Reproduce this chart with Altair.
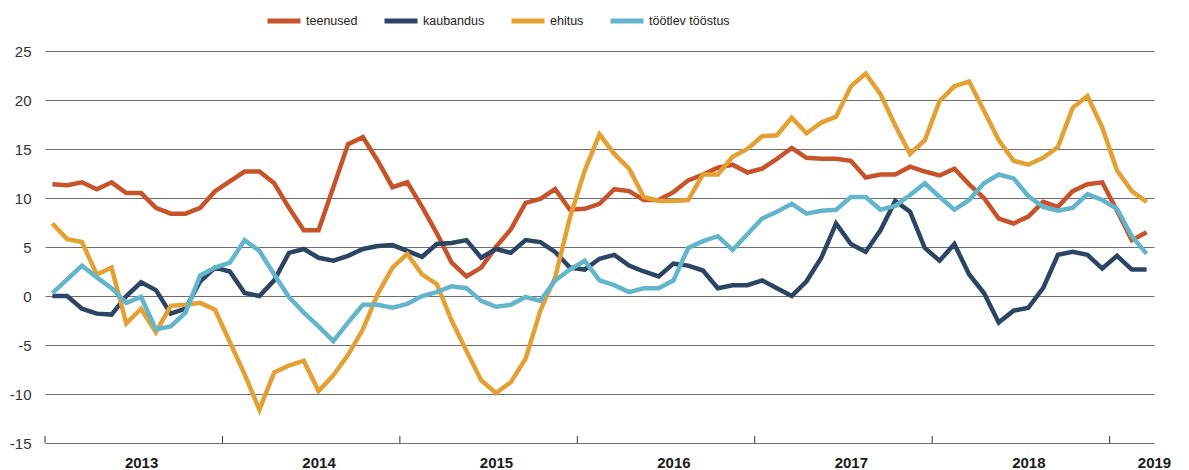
import altair as alt
import pandas as pd

series_names = ["teenused", "kaubandus", "ehitus", "töötlev tööstus"]
series_colors = ["#C7532A", "#2B4562", "#E3A133", "#63B5CB"]
years = [2013, 2014, 2015, 2016, 2017, 2018, 2019]

teenused = [11.4, 11.3, 11.6, 10.9, 11.6, 10.5, 10.5, 9.0, 8.4, 8.4, 9.0, 10.7,
            11.7, 12.7, 12.7, 11.5, 9.0, 6.7, 6.7, 11.1, 15.5, 16.2, 13.8, 11.1,
            11.6, 9.1, 6.4, 3.4, 2.0, 2.9, 5.0, 6.8, 9.5, 9.9, 10.9, 8.8,
            8.9, 9.4, 10.9, 10.7, 9.8, 9.8, 10.6, 11.8, 12.4, 13.1, 13.4, 12.6,
            13.0, 14.0, 15.1, 14.1, 14.0, 14.0, 13.8, 12.1, 12.4, 12.4, 13.2, 12.7,
            12.3, 13.0, 11.4, 10.0, 7.9, 7.4, 8.1, 9.6, 9.1, 10.7, 11.4, 11.6,
            8.7, 5.7, 6.5]
kaubandus = [0.0, 0.0, -1.3, -1.8, -1.9, 0.0, 1.4, 0.6, -1.8, -1.3, 1.5, 2.9,
             2.5, 0.3, 0.0, 1.6, 4.4, 4.8, 3.9, 3.6, 4.1, 4.8, 5.1, 5.2,
             4.6, 4.0, 5.3, 5.4, 5.7, 3.9, 4.8, 4.4, 5.7, 5.5, 4.5, 2.9,
             2.7, 3.8, 4.2, 3.1, 2.5, 2.0, 3.3, 3.1, 2.6, 0.8, 1.1, 1.1,
             1.6, 0.8, 0.0, 1.5, 3.9, 7.4, 5.3, 4.5, 6.7, 9.7, 8.6, 4.9,
             3.6, 5.3, 2.2, 0.3, -2.7, -1.5, -1.2, 0.8, 4.2, 4.5, 4.2, 2.8,
             4.1, 2.7, 2.7]
ehitus = [7.4, 5.8, 5.5, 2.2, 2.9, -2.8, -1.3, -3.7, -1.0, -0.9, -0.7, -1.4,
          -4.7, -8.0, -11.6, -7.8, -7.1, -6.6, -9.7, -8.1, -6.0, -3.4, 0.2, 2.9,
          4.3, 2.2, 1.2, -2.5, -5.6, -8.6, -9.9, -8.8, -6.4, -1.5, 1.9, 8.0,
          12.8, 16.5, 14.5, 13.0, 10.1, 9.7, 9.7, 9.8, 12.4, 12.4, 14.2, 15.0,
          16.3, 16.4, 18.2, 16.6, 17.7, 18.3, 21.4, 22.7, 20.6, 17.4, 14.5, 15.9,
          19.9, 21.4, 21.9, 18.9, 15.9, 13.8, 13.4, 14.1, 15.2, 19.2, 20.4, 17.2,
          12.8, 10.7, 9.6]
tootlev = [0.3, 1.7, 3.1, 1.9, 0.8, -0.7, -0.1, -3.4, -3.1, -1.7, 2.1, 2.9,
           3.4, 5.7, 4.6, 2.2, -0.1, -1.7, -3.1, -4.6, -2.7, -0.9, -0.9, -1.2,
           -0.8, 0.0, 0.4, 1.0, 0.8, -0.5, -1.1, -0.9, -0.1, -0.5, 1.6, 2.7,
           3.6, 1.6, 1.1, 0.4, 0.8, 0.8, 1.6, 4.9, 5.6, 6.1, 4.7, 6.3,
           7.9, 8.6, 9.4, 8.4, 8.7, 8.8, 10.1, 10.1, 8.8, 9.2, 10.3, 11.5,
           10.1, 8.8, 9.8, 11.5, 12.4, 12.0, 10.2, 9.1, 8.7, 9.0, 10.4, 9.8,
           8.9, 6.1, 4.3]

all_series = [teenused, kaubandus, ehitus, tootlev]
rows = []
for name, vals in zip(series_names, all_series):
    for i, v in enumerate(vals):
        rows.append({"m": i, "value": v, "series": name})
df = pd.DataFrame(rows)

n_months = len(teenused)
# year boundaries (month index of each January, minus half a month)
bounds = pd.DataFrame({"b": [(y - years[0]) * 12 - 0.5 for y in years]})
# year label positions
label_pos = [(y - years[0]) * 12 + 6 for y in years[:-1]] + [n_months - 0.5]

W, H = 1109, 392

x_scale = alt.Scale(domain=[-0.5, n_months - 0.5], nice=False, zero=False)
x_axis = alt.Axis(values=label_pos, labelExpr="floor(datum.value / 12) + 2013",
                  domain=False, ticks=False, grid=False, title=None,
                  labelFontWeight="bold", labelFontSize=15, labelColor="#1a1a1a",
                  labelPadding=12, labelFlush=False, labelOverlap=False, labelBound=False,
                  labelFont="Liberation Sans")

lines = alt.Chart(df).mark_line(strokeWidth=4.5, strokeJoin="miter").encode(
    x=alt.X("m:Q", scale=x_scale, axis=x_axis),
    y=alt.Y("value:Q",
            scale=alt.Scale(domain=[-15, 25], nice=False, zero=False),
            axis=alt.Axis(values=list(range(-15, 30, 5)), labelExpr="'' + datum.value",
                          domain=False, ticks=False, grid=True, gridColor="#6e6e6e",
                          gridWidth=1, title=None, labelFontSize=15, labelColor="#333333",
                          labelPadding=14, labelFont="Liberation Sans")),
    color=alt.Color("series:N",
                    scale=alt.Scale(domain=series_names, range=series_colors),
                    sort=series_names,
                    legend=alt.Legend(orient="none", legendX=220, legendY=-49,
                                      direction="horizontal", title=None,
                                      symbolType="stroke", symbolSize=1089,
                                      symbolStrokeWidth=5, labelFontSize=12.5,
                                      labelFont="Liberation Sans", labelColor="#222222",
                                      labelOffset=3, columnPadding=16)),
)

ticks = alt.Chart(bounds).mark_rule(color="#333333", strokeWidth=1).encode(
    x=alt.X("b:Q", scale=x_scale, axis=x_axis),
    y=alt.value(H),
    y2=alt.value(H - 7),
)

chart = alt.layer(lines, ticks).properties(
    width=W, height=H,
    autosize=alt.AutoSizeParams(type="none"),
    padding={"left": 37, "top": 43, "right": 20, "bottom": 27},
).configure_view(stroke=None)

chart.save("out.html", embed_options={"renderer": "svg", "actions": False})
